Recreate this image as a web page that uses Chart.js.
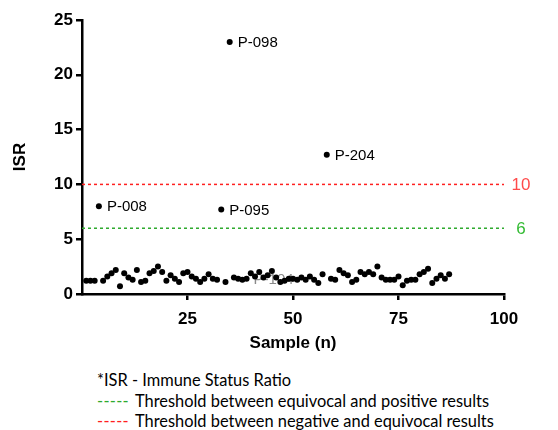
<!DOCTYPE html>
<html>
<head>
<meta charset="utf-8">
<script src="https://cdn.jsdelivr.net/npm/chart.js@4.4.1/dist/chart.umd.min.js"></script>
<style>
  body { margin: 0; background: #fff; }
  #wrap { position: relative; width: 558px; height: 430px; }
  #chart { position: absolute; left: 0; top: 0; }
  .note { position: absolute; left: 97px; font-family: Lato, 'Open Sans', sans-serif; font-size: 16.4px; line-height: 20px; color: #000; white-space: nowrap; }
  .dash { display: inline-block; width: 30px; letter-spacing: 0.3px; margin-right: 8px; }
</style>
</head>
<body>
<div id="wrap">
  <canvas id="chart" width="558" height="360"></canvas>
  <div class="note" style="top:370px">*ISR - Immune Status Ratio</div>
  <div class="note" style="top:391px"><span class="dash" style="color:#2eaa2e">-----</span>Threshold between equivocal and positive results</div>
  <div class="note" style="top:411px"><span class="dash" style="color:#ff2020">-----</span>Threshold between negative and equivocal results</div>
</div>
<script>
// sample number (n) and ISR
const sampleN = [
   1,  2,  3,  4,  5,  6,  7,  8,  9, 10, 11, 12, 13, 14, 15, 16, 17, 18, 19, 20,
  21, 22, 23, 24, 25, 26, 27, 28, 29, 30, 31, 32, 33, 34, 35, 36, 37, 38, 39, 40,
  41, 42, 43, 44, 45, 46, 47, 48, 49, 50, 51, 52, 53, 54, 55, 56, 57, 58, 59, 60,
  61, 62, 63, 64, 65, 66, 67, 68, 69, 70, 71, 72, 73, 74, 75, 76, 77, 78, 79, 80,
  81, 82, 83, 84, 85, 86, 87
];
const isrValues = [
  1.2, 1.2, 1.2, 8.0, 1.2, 1.6, 1.9, 2.2, 0.7, 1.9, 1.5, 1.3, 2.2, 1.1, 1.2, 1.9, 2.1, 2.5, 2.0, 1.2,
  1.7, 1.4, 1.1, 1.9, 2.0, 1.6, 1.4, 1.1, 1.4, 1.8, 1.4, 1.3, 7.7, 1.1, 23.0, 1.5, 1.4, 1.3, 1.4, 1.9,
  1.6, 2.0, 1.5, 1.7, 2.1, 1.5, 1.1, 1.2, 1.4, 1.4, 1.3, 1.5, 1.3, 1.6, 1.3, 1.0, 1.8, 12.7, 1.4, 1.3,
  2.2, 1.9, 1.7, 1.1, 1.3, 2.0, 1.8, 2.0, 1.8, 2.5, 1.5, 1.3, 1.3, 1.3, 1.6, 0.8, 1.2, 1.3, 1.3, 1.8,
  2.0, 2.3, 1.0, 1.4, 1.7, 1.4, 1.8
];

// labelled patients
const labelSamples = [4, 33, 35, 58];
const labelNames = ['P-008', 'P-095', 'P-098', 'P-204'];
const hiddenLabelSample = 39;
const hiddenLabelName = 'P-104';

// thresholds
const thresholdValues = [10, 6];
const thresholdColors = ['#ff2020', '#2eaa2e'];
const thresholdTextColors = ['#ff4a4a', '#33bb33'];

const xTicks = [25, 50, 75, 100];

const points = sampleN.map((n, i) => ({ x: n, y: isrValues[i] }));

const thresholdSets = thresholdValues.map((v, i) => ({
  type: 'line',
  data: [{ x: 0, y: v }, { x: 100, y: v }],
  borderColor: thresholdColors[i],
  borderWidth: 1.5,
  borderDash: [3, 3],
  pointRadius: 0,
  fill: false
}));

const labelFont = '15px "Liberation Sans", Arial, sans-serif';

const annotate = {
  id: 'annotate',
  beforeDatasetsDraw(chart) {
    const ctx = chart.ctx;
    const xs = chart.scales.x, ys = chart.scales.y;
    const idx = sampleN.indexOf(hiddenLabelSample);
    ctx.save();
    ctx.font = labelFont;
    ctx.fillStyle = '#8a8a8a';
    ctx.textBaseline = 'middle';
    ctx.fillText(hiddenLabelName, xs.getPixelForValue(hiddenLabelSample) + 7, ys.getPixelForValue(isrValues[idx]) + 1);
    ctx.restore();
  },
  afterDatasetsDraw(chart) {
    const ctx = chart.ctx;
    const xs = chart.scales.x, ys = chart.scales.y;
    ctx.save();
    ctx.font = labelFont;
    ctx.fillStyle = '#000';
    ctx.textBaseline = 'middle';
    labelSamples.forEach((n, i) => {
      const v = isrValues[sampleN.indexOf(n)];
      ctx.fillText(labelNames[i], xs.getPixelForValue(n) + 8, ys.getPixelForValue(v) + 1);
    });
    ctx.font = '17px "Liberation Sans", Arial, sans-serif';
    thresholdValues.forEach((v, i) => {
      ctx.fillStyle = thresholdTextColors[i];
      ctx.textAlign = 'center';
      ctx.fillText(String(v), chart.chartArea.right + 17, ys.getPixelForValue(v) + 1);
    });
    ctx.restore();
  }
};

const boldFont = { family: '"Liberation Sans", Arial, sans-serif', size: 17, weight: 'bold' };

new Chart(document.getElementById('chart'), {
  type: 'scatter',
  data: {
    datasets: [
      ...thresholdSets,
      {
        data: points,
        backgroundColor: '#000',
        borderColor: '#000',
        pointRadius: 3,
        pointBorderWidth: 0
      }
    ]
  },
  options: {
    responsive: false,
    animation: false,
    layout: { padding: { top: 20, right: 54, left: 0, bottom: 0 } },
    plugins: { legend: { display: false }, tooltip: { enabled: false } },
    scales: {
      x: {
        type: 'linear',
        min: 0,
        max: 100,
        afterBuildTicks: (scale) => { scale.ticks = [0, ...xTicks].map(v => ({ value: v })); },
        afterFit: (scale) => { scale.height = 66; },
        ticks: {
          color: '#000',
          font: boldFont,
          padding: 9,
          maxRotation: 0,
          callback: (v) => (v === 0 ? '' : v)
        },
        grid: {
          drawOnChartArea: false,
          drawTicks: true,
          tickLength: 6,
          lineWidth: 2.5,
          color: (c) => (c.tick && c.tick.value === 0 ? 'rgba(0,0,0,0)' : '#000')
        },
        border: { display: true, color: '#000', width: 2.5 },
        title: { display: true, text: 'Sample (n)', color: '#000', font: boldFont, padding: { top: 0, bottom: 6 } }
      },
      y: {
        min: 0,
        max: 25,
        afterFit: (scale) => { scale.width = 82; },
        ticks: { stepSize: 5, color: '#000', font: boldFont, padding: 3 },
        grid: { drawOnChartArea: false, drawTicks: true, tickLength: 6, lineWidth: 2.5, color: '#000' },
        border: { display: true, color: '#000', width: 2.5 },
        title: { display: true, text: 'ISR', color: '#000', font: boldFont, padding: { top: 10, bottom: 0 } }
      }
    }
  },
  plugins: [annotate]
});
</script>
</body>
</html>
